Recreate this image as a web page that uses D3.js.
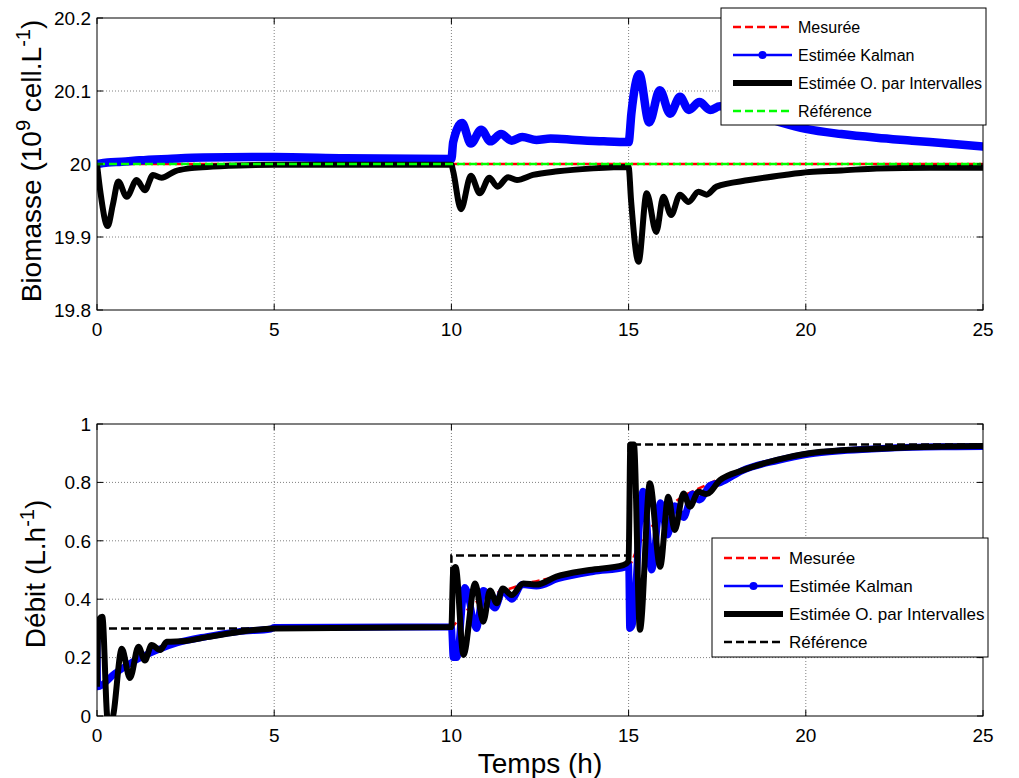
<!DOCTYPE html>
<html><head><meta charset="utf-8">
<script src="https://cdn.jsdelivr.net/npm/d3@7"></script>
<style>body{margin:0;background:#fff}svg{display:block;font-family:Arial,"Liberation Sans",sans-serif}</style>
</head><body><svg id="c" width="1019" height="778"></svg>
<script>
const xTicks=[0,5,10,15,20,25];
const bioTicks=[19.8,19.9,20,20.1,20.2];
const debTicks=[0,0.2,0.4,0.6,0.8,1];
const legendLabels=["Mesurée","Estimée Kalman","Estimée O. par Intervalles","Référence"];

const bioMesuree=[[0,20],[25,20]];
const bioReference=[[0,20],[25,20]];
const bioKalman=[[0,20.0],[0.3,20.002],[0.7,20.003],[1.2,20.005],[2,20.007],[3,20.009],[5,20.0095],[7,20.008],[10,20.007],
[10.05,20.03],[10.3,20.056],[10.55,20.028],[10.84,20.047],[11.1,20.031],[11.4,20.041],[11.7,20.032],[12,20.037],[12.4,20.033],[12.8,20.035],[13.5,20.033],[14.3,20.031],[15,20.030],
[15.08,20.07],[15.3,20.123],[15.58,20.057],[15.88,20.101],[16.17,20.069],[16.45,20.092],[16.7,20.074],[17.0,20.085],[17.3,20.074],[17.58,20.079],[18,20.075],[19,20.061],[20,20.048],[21,20.041],[22,20.036],[23,20.032],[24,20.028],[25,20.024]];
const bioIntervalles=[[0,20.0],[0.1,19.96],[0.3,19.915],[0.45,19.945],[0.6,19.976],[0.84,19.955],[1.12,19.978],[1.35,19.964],[1.58,19.985],[1.82,19.981],[2.2,19.99],[2.6,19.994],[3.1,19.996],[4,19.998],[5,19.999],[10,19.999],
[10.05,19.99],[10.27,19.938],[10.55,19.984],[10.8,19.96],[11.07,19.981],[11.3,19.969],[11.6,19.982],[11.85,19.978],[12.3,19.985],[13,19.99],[14,19.994],[15,19.996],
[15.07,19.95],[15.28,19.866],[15.51,19.96],[15.78,19.907],[15.98,19.955],[16.2,19.93],[16.45,19.958],[16.69,19.948],[16.97,19.962],[17.2,19.958],[17.48,19.969],[18.4,19.978],[19.4,19.985],[20.1,19.989],[21,19.991],[22,19.994],[23.5,19.995],[25,19.995]];

const debReference=[[0,0.3],[10,0.3],[10,0.55],[15,0.55],[15,0.93],[25,0.93]];
const debMesuree=[[0,0.1],[0.5,0.145],[1,0.185],[2,0.24],[3,0.27],[4,0.289],[5,0.3],[10,0.305],[10.2,0.33],[10.5,0.37],[11,0.41],[11.5,0.43],[12,0.45],[13,0.477],[14,0.5],[15,0.515],[15.3,0.59],[15.6,0.64],[16,0.7],[16.5,0.75],[17,0.78],[18,0.835],[19,0.87],[20,0.895],[21,0.905],[22,0.912],[23,0.918],[24,0.921],[25,0.923]];
const debKalman=[[0,0.3],[0.02,0.1],[0.5,0.145],[1,0.185],[1.7,0.226],[2.25,0.25],[3.1,0.272],[4,0.289],[4.9,0.298],[5,0.303],[10,0.305],[10.05,0.2],[10.15,0.2],[10.38,0.44],[10.71,0.3],[10.9,0.43],[11.23,0.37],[11.45,0.43],[11.7,0.4],[12,0.45],[12.4,0.445],[13,0.47],[14,0.495],[14.9,0.51],[15.0,0.52],[15.03,0.3],[15.1,0.31],[15.41,0.77],[15.65,0.5],[15.9,0.73],[16.1,0.62],[16.3,0.72],[16.55,0.68],[16.8,0.76],[17.0,0.74],[17.3,0.79],[17.6,0.8],[18.2,0.84],[19.2,0.875],[20.1,0.897],[21,0.908],[22,0.915],[23,0.92],[24,0.922],[25,0.923]];
const debIntervalles=[[0,0.1],[0.05,0.33],[0.15,0.34],[0.3,-0.01],[0.42,-0.01],[0.7,0.23],[0.93,0.13],[1.17,0.237],[1.35,0.19],[1.54,0.243],[1.78,0.226],[1.97,0.254],[2.5,0.257],[3.1,0.27],[4,0.288],[5,0.3],[10,0.305],[10.05,0.5],[10.12,0.51],[10.34,0.209],[10.67,0.454],[10.9,0.323],[11.09,0.43],[11.28,0.386],[11.45,0.437],[11.7,0.414],[12.03,0.454],[12.4,0.45],[12.96,0.477],[13.9,0.5],[14.85,0.517],[15.0,0.53],[15.05,0.93],[15.15,0.93],[15.32,0.295],[15.6,0.797],[15.89,0.511],[16.12,0.751],[16.3,0.637],[16.55,0.762],[16.73,0.717],[16.97,0.768],[17.2,0.76],[17.58,0.808],[18.23,0.842],[19.18,0.877],[20.1,0.9],[21,0.91],[22,0.915],[23,0.92],[24,0.923],[25,0.925]];

const svg=d3.select("#c");
const x=d3.scaleLinear().domain([0,25]).range([97,983]);
const FS=19;

function panel(id,top,bottom,domain,ticks,fmt,series,refColor,legend,wK,wI){
  const y=d3.scaleLinear().domain(domain).range([bottom,top]);
  const g=svg.append("g");
  g.append("rect").attr("x",x(0)).attr("y",top).attr("width",x(25)-x(0)).attr("height",bottom-top).attr("fill","#fff");
  g.selectAll(".gx").data(xTicks.slice(1,-1)).enter().append("line")
    .attr("x1",d=>x(d)).attr("x2",d=>x(d)).attr("y1",top).attr("y2",bottom)
    .attr("stroke","#808080").attr("stroke-width",1).attr("stroke-dasharray","1,2");
  g.selectAll(".gy").data(ticks.slice(1,-1)).enter().append("line")
    .attr("y1",d=>y(d)).attr("y2",d=>y(d)).attr("x1",x(0)).attr("x2",x(25))
    .attr("stroke","#808080").attr("stroke-width",1).attr("stroke-dasharray","1,2");
  const cp="clip"+id;
  svg.append("clipPath").attr("id",cp).append("rect").attr("x",x(0)).attr("y",top).attr("width",x(25)-x(0)).attr("height",bottom-top);
  const pg=g.append("g").attr("clip-path","url(#"+cp+")");
  const smooth=d3.line().x(d=>x(d[0])).y(d=>y(d[1])).curve(d3.curveMonotoneX);
  const line=d3.line().x(d=>x(d[0])).y(d=>y(d[1]));
  pg.append("path").datum(series.mes).attr("d",smooth).attr("fill","none").attr("stroke","#ff0000").attr("stroke-width",2.5).attr("stroke-dasharray","8,4").attr("stroke-dashoffset",6);
  pg.append("path").datum(series.kal).attr("d",smooth).attr("fill","none").attr("stroke","#0000ff").attr("stroke-width",wK).attr("stroke-linejoin","round").attr("stroke-linecap","round");
  pg.append("path").datum(series.int).attr("d",smooth).attr("fill","none").attr("stroke","#000").attr("stroke-width",wI).attr("stroke-linejoin","round");
  pg.append("path").datum(series.ref).attr("d",line).attr("fill","none").attr("stroke",refColor).attr("stroke-width",2.5).attr("stroke-dasharray","8,4");
  g.append("rect").attr("x",x(0)).attr("y",top).attr("width",x(25)-x(0)).attr("height",bottom-top).attr("fill","none").attr("stroke","#000").attr("stroke-width",1);
  const tl=6;
  xTicks.forEach(t=>{
    g.append("line").attr("x1",x(t)).attr("x2",x(t)).attr("y1",bottom).attr("y2",bottom-tl).attr("stroke","#000");
    g.append("line").attr("x1",x(t)).attr("x2",x(t)).attr("y1",top).attr("y2",top+tl).attr("stroke","#000");
    g.append("text").attr("x",x(t)).attr("y",bottom+26).attr("text-anchor","middle").attr("font-size",FS).text(t);
  });
  ticks.forEach(t=>{
    g.append("line").attr("y1",y(t)).attr("y2",y(t)).attr("x1",x(0)).attr("x2",x(0)+tl).attr("stroke","#000");
    g.append("line").attr("y1",y(t)).attr("y2",y(t)).attr("x1",x(25)).attr("x2",x(25)-tl).attr("stroke","#000");
    g.append("text").attr("x",x(0)-6).attr("y",y(t)).attr("dy","0.36em").attr("text-anchor","end").attr("font-size",FS).text(fmt(t));
  });
  const L=legend;
  const lg=svg.append("g");
  lg.append("rect").attr("x",L.x).attr("y",L.y).attr("width",L.w).attr("height",L.h).attr("fill","#fff").attr("stroke","#000").attr("stroke-width",1);
  const styles=[
    {c:"#ff0000",w:2.5,da:"8,4",m:false},
    {c:"#0000ff",w:2.5,da:null,m:true},
    {c:"#000",w:6,da:null,m:false},
    {c:refColor,w:2.5,da:"8,4",m:false}];
  legendLabels.forEach((lab,i)=>{
    const yy=L.y+L.r0+i*L.dy;
    const s=styles[i];
    const ln=lg.append("line").attr("x1",L.x+12).attr("x2",L.x+71).attr("y1",yy).attr("y2",yy).attr("stroke",s.c).attr("stroke-width",s.w);
    if(s.da) ln.attr("stroke-dasharray",s.da);
    if(s.m) lg.append("circle").attr("cx",L.x+41.5).attr("cy",yy).attr("r",4).attr("fill",s.c);
    lg.append("text").attr("x",L.x+77).attr("y",yy).attr("dy","0.35em").attr("font-size",L.fs).text(lab);
  });
  return y;
}

panel("a",18,310,[19.8,20.2],bioTicks,d=>d3.format("")(+d.toFixed(1)),
  {mes:bioMesuree,kal:bioKalman,int:bioIntervalles,ref:bioReference},"#00ff00",
  {x:721,y:8,w:265,h:117,r0:19,dy:28,fs:16},8.5,6);
panel("b",424,716,[0,1],debTicks,d=>d3.format("")(+d.toFixed(1)),
  {mes:debMesuree,kal:debKalman,int:debIntervalles,ref:debReference},"#000",
  {x:712,y:538,w:276,h:119,r0:20,dy:28,fs:17},7,6);

const LF=28, SF=20;
const t1=svg.append("text").attr("transform","translate(41,161) rotate(-90)").attr("text-anchor","middle").attr("font-size",LF);
t1.append("tspan").text("Biomasse (10");
t1.append("tspan").attr("dy",-11).attr("font-size",SF).text("9");
t1.append("tspan").attr("dy",11).text(" cell.L");
t1.append("tspan").attr("dy",-11).attr("font-size",SF).text("-1");
t1.append("tspan").attr("dy",11).text(")");
const t2=svg.append("text").attr("transform","translate(45,574) rotate(-90)").attr("text-anchor","middle").attr("font-size",LF);
t2.append("tspan").text("Débit (L.h");
t2.append("tspan").attr("dy",-11).attr("font-size",SF).text("-1");
t2.append("tspan").attr("dy",11).text(")");
svg.append("text").attr("x",540).attr("y",773).attr("text-anchor","middle").attr("font-size",28).text("Temps (h)");
</script></body></html>
